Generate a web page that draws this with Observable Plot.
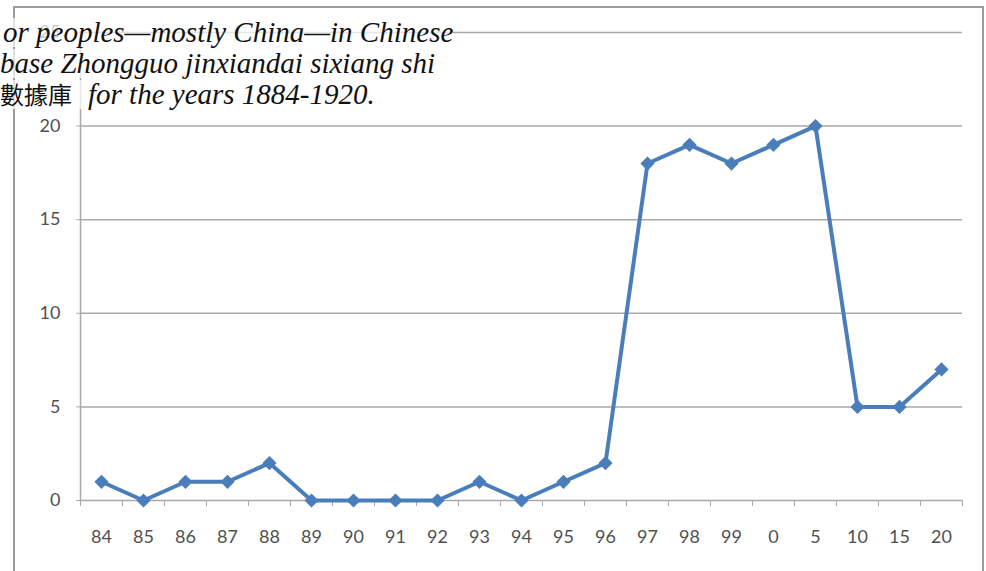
<!DOCTYPE html>
<html>
<head>
<meta charset="utf-8">
<script src="https://cdn.jsdelivr.net/npm/d3@7"></script>
<script src="https://cdn.jsdelivr.net/npm/@observablehq/plot@0.6"></script>
<style>
  body { margin: 0; background: #fff; }
  #wrap { position: relative; width: 986px; height: 571px; overflow: hidden; }
  #frame { position: absolute; left: 13px; top: 6px; width: 967px; height: 620px;
           border: 2px solid #9c9c9c; border-bottom: none; }
  #chart { position: absolute; left: 0; top: 0; }
  .note { position: absolute; font-family: "Liberation Serif", serif; font-style: italic;
          font-size: 29px; line-height: 1; color: #111; white-space: nowrap;
          background: rgba(255,255,255,0.7); }
  .note .cjk { font-family: "Noto Sans CJK TC", sans-serif; font-style: normal; font-size: 24px;
               line-height: 1; margin-right: 16px; }
</style>
</head>
<body>
<div id="wrap">
  <div id="frame"></div>
  <div id="chart"></div>
  <div class="note" style="left:3px; top:18px;">or peoples—mostly China—in Chinese</div>
  <div class="note" style="left:0px; top:49px;">base Zhongguo jinxiandai sixiang shi</div>
  <div class="note" style="left:0px; top:80px;"><span class="cjk">數據庫</span>for the years 1884-1920.</div>
</div>
<script>
// Years shown on the category axis (18xx, then 19xx abbreviated)
const years = ["84", "85", "86", "87", "88", "89", "90", "91", "92", "93", "94",
               "95", "96", "97", "98", "99", "0", "5", "10", "15", "20"];
// Count per year
const counts = [1, 0, 1, 1, 2, 0, 0, 0, 0, 1, 0, 1, 2, 18, 19, 18, 19, 20, 5, 5, 7];
// Value-axis ticks
const yTicks = [0, 5, 10, 15, 20, 25];

const rows = years.map((label, i) => ({i, label, count: counts[i]}));
// Category boundaries for the tick marks between labels
const edges = d3.range(years.length + 1).map(k => k - 0.5);

const gridColor = "#a9a9a9";
const labelColor = "#505050";
const blue = "#4a7ebb";

const chart = Plot.plot({
  width: 986,
  height: 571,
  marginLeft: 80,
  marginRight: 24,
  marginTop: 32,
  marginBottom: 71,
  style: {fontFamily: "Lato, 'Open Sans', sans-serif", fontSize: "18px", background: "transparent"},
  x: {domain: [-0.5, years.length - 0.5], axis: null},
  y: {domain: [0, 25], axis: null},
  marks: [
    Plot.gridY(yTicks, {stroke: gridColor, strokeOpacity: 1, strokeWidth: 1.5}),
    Plot.ruleX([-0.5], {stroke: gridColor, strokeWidth: 1.5}),
    Plot.axisY(yTicks, {label: null, tickSize: 4, tickPadding: 16, stroke: gridColor, fill: labelColor}),
    Plot.axisX(edges, {label: null, tickSize: 6, tickFormat: () => "", stroke: gridColor}),
    Plot.axisX(rows.map(d => d.i), {label: null, tickSize: 0, tickPadding: 30, tickFormat: i => years[i], fill: labelColor}),
    Plot.line(rows, {x: "i", y: "count", stroke: blue, strokeWidth: 4}),
    Plot.dot(rows, {x: "i", y: "count", symbol: "diamond2", r: 6.4, fill: blue, stroke: null})
  ]
});
document.getElementById("chart").appendChild(chart);
</script>
</body>
</html>
